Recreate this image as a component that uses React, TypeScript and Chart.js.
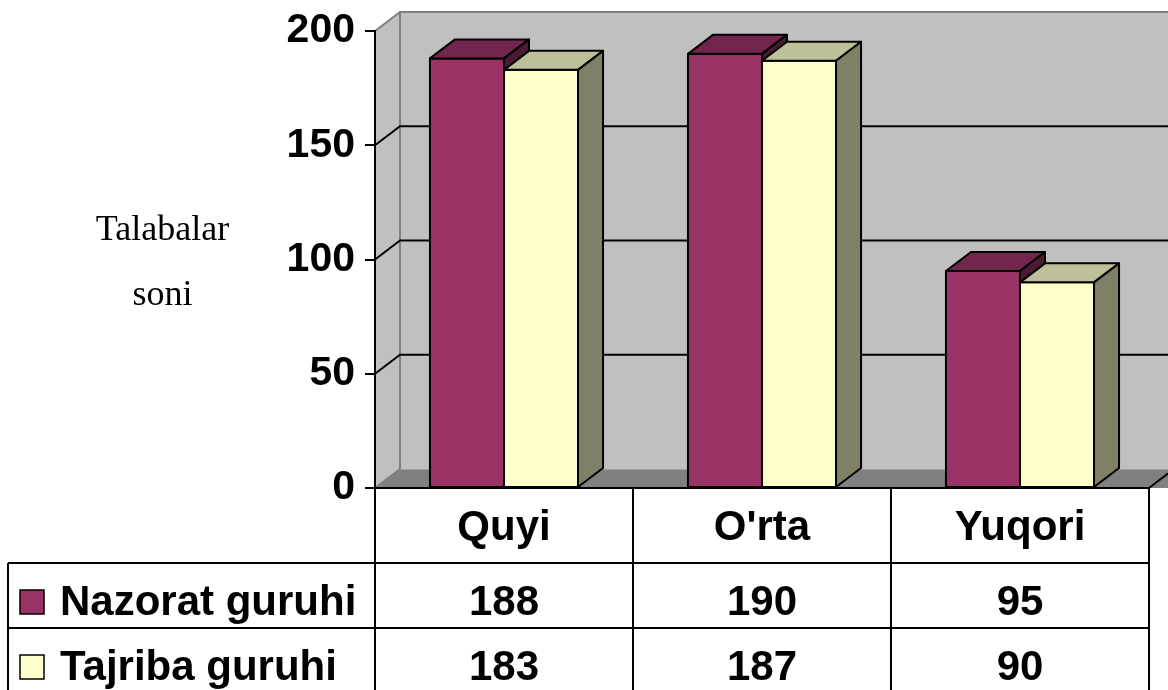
import { useEffect, useRef } from "react";
import { Chart, registerables } from "chart.js";

Chart.register(...registerables);

const categories = ["Quyi", "O'rta", "Yuqori"];
const seriesNames = ["Nazorat guruhi", "Tajriba guruhi"];
const nazoratValues = [188, 190, 95];
const tajribaValues = [183, 187, 90];
const yMin = 0;
const yMax = 200;
const yStep = 50;
const axisTitleLines = ["Talabalar", "soni"];

const DX = 25;
const DY = -19;
const frontColors = ["#993366", "#FFFFCC"];
const topColors = ["#73264D", "#BFBF99"];
const sideColors = ["#4D1A33", "#808066"];

const tableFont = "bold 42px 'Liberation Sans', Arial, sans-serif";

const threeDPlugin = {
  id: "threeD",
  beforeDraw(chart: any) {
    const { ctx, chartArea: a } = chart;
    const ys = chart.scales.y;
    ctx.save();
    ctx.fillStyle = "#FFFFFF";
    ctx.fillRect(0, 0, chart.width, chart.height);
    ctx.fillStyle = "#C0C0C0";
    ctx.fillRect(a.left + DX, a.top + DY, a.right - a.left + 40, a.bottom - a.top);
    ctx.beginPath();
    ctx.moveTo(a.left, a.top);
    ctx.lineTo(a.left + DX, a.top + DY);
    ctx.lineTo(a.left + DX, a.bottom + DY);
    ctx.lineTo(a.left, a.bottom);
    ctx.closePath();
    ctx.fill();
    ctx.fillStyle = "#808080";
    ctx.beginPath();
    ctx.moveTo(a.left, a.bottom);
    ctx.lineTo(a.left + DX, a.bottom + DY);
    ctx.lineTo(a.right + DX + 40, a.bottom + DY);
    ctx.lineTo(a.right + 40, a.bottom);
    ctx.closePath();
    ctx.fill();
    ctx.strokeStyle = "#808080";
    ctx.lineWidth = 2;
    ctx.beginPath();
    ctx.moveTo(a.left, a.top);
    ctx.lineTo(a.left + DX, a.top + DY);
    ctx.lineTo(a.right + DX + 40, a.top + DY);
    ctx.moveTo(a.left + DX, a.top + DY);
    ctx.lineTo(a.left + DX, a.bottom + DY);
    ctx.moveTo(a.left, a.bottom);
    ctx.lineTo(a.left + DX, a.bottom + DY);
    ctx.stroke();
    ctx.strokeStyle = "#A0A0A0";
    ctx.lineWidth = 1;
    ctx.beginPath();
    ctx.moveTo(a.left + DX, a.bottom + DY + 0.5);
    ctx.lineTo(a.right + DX + 40, a.bottom + DY + 0.5);
    ctx.stroke();
    ctx.strokeStyle = "#000000";
    ctx.lineWidth = 2;
    for (const t of ys.ticks) {
      if (t.value <= yMin || t.value >= yMax) continue;
      const py = ys.getPixelForValue(t.value);
      ctx.beginPath();
      ctx.moveTo(a.left, py);
      ctx.lineTo(a.left + DX, py + DY);
      ctx.lineTo(a.right + DX + 40, py + DY);
      ctx.stroke();
    }
    ctx.beginPath();
    ctx.moveTo(a.right, a.bottom);
    ctx.lineTo(a.right + DX, a.bottom + DY);
    ctx.stroke();
    ctx.restore();
  },
  afterDatasetsDraw(chart: any) {
    const { ctx } = chart;
    const nDs = chart.data.datasets.length;
    ctx.save();
    ctx.lineJoin = "round";
    for (let di = 0; di < nDs; di++) {
      const meta = chart.getDatasetMeta(di);
      for (const el of meta.data) {
        const p = el.getProps(["x", "y", "base", "width"], true);
        const l = p.x - p.width / 2;
        const r = p.x + p.width / 2;
        const t = Math.min(p.y, p.base);
        const b = Math.max(p.y, p.base);
        el.draw(ctx);
        ctx.strokeStyle = "#000000";
        ctx.lineWidth = 2;
        ctx.strokeRect(l, t, r - l, b - t);
        ctx.fillStyle = topColors[di];
        ctx.beginPath();
        ctx.moveTo(l, t);
        ctx.lineTo(l + DX, t + DY);
        ctx.lineTo(r + DX, t + DY);
        ctx.lineTo(r, t);
        ctx.closePath();
        ctx.fill();
        ctx.stroke();
        ctx.fillStyle = sideColors[di];
        ctx.beginPath();
        ctx.moveTo(r, t);
        ctx.lineTo(r + DX, t + DY);
        ctx.lineTo(r + DX, b + DY);
        ctx.lineTo(r, b);
        ctx.closePath();
        ctx.fill();
        ctx.stroke();
      }
    }
    ctx.restore();
  },
  afterDraw(chart: any) {
    const { ctx, chartArea: a } = chart;
    const xs = chart.scales.x;
    const n = categories.length;
    const colW = (a.right - a.left) / n;
    const H = chart.height;
    const legendLeft = 8;
    const row1Top = a.bottom;
    const row2Top = 563;
    const row3Top = 628;
    ctx.save();
    ctx.strokeStyle = "#000000";
    ctx.lineWidth = 2;
    ctx.beginPath();
    ctx.moveTo(a.left, row1Top);
    ctx.lineTo(a.right, row1Top);
    ctx.moveTo(legendLeft, row2Top);
    ctx.lineTo(a.right, row2Top);
    ctx.moveTo(legendLeft, row3Top);
    ctx.lineTo(a.right, row3Top);
    ctx.moveTo(legendLeft, row2Top);
    ctx.lineTo(legendLeft, H);
    for (let i = 0; i <= n; i++) {
      const vx = a.left + i * colW;
      ctx.moveTo(vx, row1Top);
      ctx.lineTo(vx, H);
    }
    ctx.stroke();

    ctx.fillStyle = "#000000";
    ctx.font = tableFont;
    ctx.textAlign = "center";
    ctx.textBaseline = "alphabetic";
    const series = [nazoratValues, tajribaValues];
    const baselines = [615, 680];
    for (let i = 0; i < n; i++) {
      const cx = xs.getPixelForValue(i);
      ctx.fillText(categories[i], cx, 540);
      for (let s = 0; s < series.length; s++) {
        ctx.fillText(String(series[s][i]), cx, baselines[s]);
      }
    }
    ctx.textAlign = "left";
    for (let s = 0; s < seriesNames.length; s++) {
      const bl = baselines[s];
      ctx.fillStyle = frontColors[s];
      ctx.fillRect(20, bl - 25, 24, 24);
      ctx.lineWidth = 1.5;
      ctx.strokeRect(20, bl - 25, 24, 24);
      ctx.fillStyle = "#000000";
      ctx.fillText(seriesNames[s], 60, bl);
    }
    ctx.font = "36px 'Liberation Serif', 'Times New Roman', serif";
    ctx.textAlign = "center";
    ctx.fillText(axisTitleLines[0], 162.5, 240);
    ctx.fillText(axisTitleLines[1], 162.5, 305);
    ctx.restore();
  },
};

export default function App() {
  const ref = useRef<HTMLCanvasElement>(null);
  useEffect(() => {
    if (!ref.current) return;
    const chart = new Chart(ref.current, {
      type: "bar",
      data: {
        labels: categories,
        datasets: [
          {
            label: seriesNames[0],
            data: nazoratValues,
            backgroundColor: frontColors[0],
            borderColor: "#000000",
            borderWidth: 0,
          },
          {
            label: seriesNames[1],
            data: tajribaValues,
            backgroundColor: frontColors[1],
            borderColor: "#000000",
            borderWidth: 0,
          },
        ],
      },
      options: {
        responsive: false,
        animation: false,
        devicePixelRatio: 1,
        layout: { padding: { left: 0, top: 31, right: 19, bottom: 202 } },
        datasets: { bar: { categoryPercentage: 0.574, barPercentage: 1 } },
        plugins: { legend: { display: false }, tooltip: { enabled: false }, title: { display: false } },
        scales: {
          x: { display: false, offset: true },
          y: {
            min: yMin,
            max: yMax,
            ticks: {
              stepSize: yStep,
              color: "#000000",
              padding: 10,
              font: { family: "'Liberation Sans', Arial, sans-serif", size: 41, weight: "bold" },
            },
            grid: { drawOnChartArea: false, tickLength: 10, color: "#000000", lineWidth: 2 },
            border: { display: true, color: "#000000", width: 2 },
            afterFit: (s: any) => {
              s.width = 375;
              s.paddingTop = 0;
              s.paddingBottom = 0;
            },
          },
        },
      } as any,
      plugins: [threeDPlugin],
    });
    return () => chart.destroy();
  }, []);
  return (
    <div style={{ position: "fixed", left: 0, top: 0, width: 1168, height: 690, background: "#fff" }}>
      <canvas ref={ref} width={1168} height={690} style={{ display: "block" }} />
    </div>
  );
}
